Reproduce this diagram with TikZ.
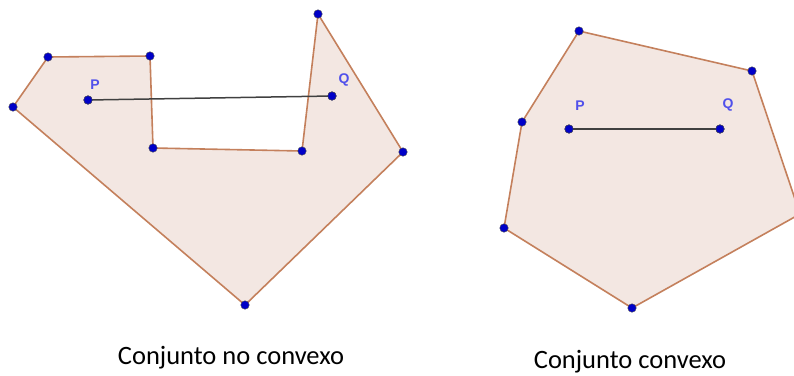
\documentclass[tikz,border=0pt]{standalone}
\usepackage{fontspec}
\setmainfont{Carlito}
\newfontfamily\labfont{Liberation Sans}
\definecolor{fillc}{RGB}{243,231,226}
\definecolor{edgec}{RGB}{196,128,92}
\definecolor{ptc}{RGB}{0,0,200}
\definecolor{labc}{RGB}{80,80,235}
\tikzset{
  poly/.style={draw=edgec, line width=1.6pt, fill=fillc, line join=round},
  pt/.style={circle, fill=ptc, draw=black!70, line width=0.4pt, inner sep=0pt, minimum size=8.5pt},
  seg/.style={draw=black!75, line width=1.5pt},
  lab/.style={text=labc, font=\labfont\bfseries\fontsize{14}{16}\selectfont, inner sep=0pt},
  captext/.style={font=\fontsize{26.5}{28}\selectfont, inner sep=0pt}
}
\begin{document}
\begin{tikzpicture}[x=1pt,y=-1pt]
\useasboundingbox (0,0) rectangle (794,375);
\begin{scope}
\clip (0,0) rectangle (794,375);
% left polygon
\coordinate (a1) at (48,57);
\coordinate (a2) at (150,56);
\coordinate (a3) at (153,148);
\coordinate (a4) at (302,151);
\coordinate (a5) at (318,14);
\coordinate (a6) at (403,152);
\coordinate (a7) at (245,305);
\coordinate (a8) at (13,107);
\path[poly] (a1) -- (a2) -- (a3) -- (a4) -- (a5) -- (a6) -- (a7) -- (a8) -- cycle;
% right polygon
\coordinate (b1) at (579,31);
\coordinate (b2) at (752,71);
\coordinate (b3) at (800,214);
\coordinate (b4) at (632,308);
\coordinate (b5) at (504,228);
\coordinate (b6) at (522,122);
\path[poly] (b1) -- (b2) -- (b3) -- (b4) -- (b5) -- (b6) -- cycle;
% segments
\node[pt] (P1) at (88,100) {};
\node[pt] (Q1) at (332,96) {};
\node[pt] (P2) at (569,129) {};
\node[pt] (Q2) at (720,129) {};
\draw[seg] (P1.center) -- (Q1.center);
\draw[seg] (P2.center) -- (Q2.center);
\node[pt] at (P1) {};
\node[pt] at (Q1) {};
\node[pt] at (P2) {};
\node[pt] at (Q2) {};
% vertices
\foreach \v in {a1,a2,a3,a4,a5,a6,a7,a8,b1,b2,b4,b5,b6} \node[pt] at (\v) {};
\end{scope}
% labels
\node[lab] (lP1) at (95,85) {P};
\node[lab] (lQ1) at (344,80) {Q};
\node[lab] (lP2) at (580,106) {P};
\node[lab] (lQ2) at (728,105) {Q};
\node[captext] (c1) at (231,358) {Conjunto no convexo};
\node[captext] (c2) at (630,362) {Conjunto convexo};
\end{tikzpicture}
\end{document}
